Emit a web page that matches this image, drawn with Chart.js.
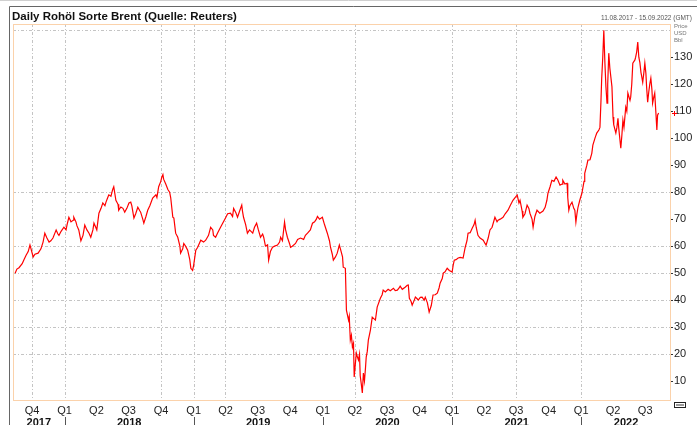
<!DOCTYPE html>
<html><head><meta charset="utf-8">
<script src="https://cdn.jsdelivr.net/npm/chart.js@4/dist/chart.umd.min.js"></script>
<style>html,body{margin:0;padding:0;background:#fff;overflow:hidden}#wrap{width:697px;height:425px;position:relative}</style>
</head><body><div id="wrap"><canvas id="c" width="697" height="425"></canvas></div>
<script>
const chartTitle = 'Daily Rohöl Sorte Brent (Quelle: Reuters)';
const dateRange = '11.08.2017 - 15.09.2022 (GMT)';
const unitLabels = ['Price', 'USD', 'Bbl'];
const startDate = '2017-08-11'; // day 0
// days since startDate
const days = [3,8,14,23,28,34,40,45,48,54,59,68,76,82,87,93,99,104,110,116,119,124,127,133,141,147,150,155,161,167,169,175,178,183,189,195,200,206,212,217,223,226,231,234,240,246,251,257,260,265,268,274,279,282,288,294,296,302,308,313,319,325,330,333,339,344,350,356,358,364,367,373,378,384,392,401,404,409,415,418,421,423,429,435,440,443,449,452,457,463,469,471,477,480,485,491,497,500,505,508,514,519,528,536,542,550,556,562,564,570,576,584,590,598,604,612,618,621,627,632,638,644,646,649,655,660,666,675,680,686,691,697,703,706,711,717,720,725,731,737,745,751,754,759,765,768,773,779,782,787,796,802,810,819,824,830,838,844,850,855,858,864,872,878,886,892,895,900,903,909,914,920,923,929,931,937,940,946,948,951,954,957,960,962,965,968,971,974,977,979,982,985,988,991,994,996,999,1002,1008,1013,1022,1027,1036,1041,1044,1050,1058,1064,1073,1078,1084,1089,1092,1098,1106,1112,1115,1118,1123,1126,1132,1135,1140,1143,1149,1154,1160,1163,1169,1174,1180,1185,1191,1197,1202,1205,1211,1214,1219,1225,1231,1239,1242,1245,1250,1256,1262,1270,1276,1281,1284,1290,1296,1301,1304,1307,1312,1318,1327,1332,1335,1341,1346,1352,1360,1366,1369,1375,1383,1389,1397,1403,1411,1417,1423,1428,1431,1437,1439,1445,1451,1456,1459,1465,1468,1473,1479,1487,1496,1502,1507,1510,1516,1521,1527,1533,1538,1544,1550,1552,1558,1564,1566,1569,1572,1578,1583,1586,1589,1592,1595,1600,1606,1612,1614,1620,1623,1629,1634,1637,1643,1648,1654,1657,1660,1662,1665,1668,1671,1674,1677,1679,1682,1685,1691,1694,1696,1702,1705,1708,1710,1716,1719,1722,1725,1730,1733,1736,1742,1744,1747,1750,1756,1758,1761,1764,1767,1770,1773,1775,1778,1781,1784,1787,1789,1792,1795,1798,1801,1804,1806,1809,1812,1815,1818,1820,1823];
// Brent, USD per barrel
const brent = [50,51.5,52,53.5,55,56.6,58,60.4,59,56,57,57.4,59,61.5,64.8,63,61.5,62,63,65,66,64.5,64,65.5,67,66,68,70.7,69,69.6,70.7,69,67.5,66,62,64,67.8,66,64.8,63.3,66,68.5,67,66,72.2,74,76,75,76.3,78,79,78.5,81,82,77,75.5,73.3,74.5,74,72.6,74,76,76.3,75,70.4,72,74.4,73,72.6,70,68.5,71,73.3,75,77.8,79,78,82,84,85.6,86.5,84.8,83,81,80,78,70.7,70.4,64.8,63.3,60,57.4,59,61,60,58.5,55,51.8,51,53,58.5,59.5,62.2,61.5,62.2,64,67,66,64,63.3,65,67,68.5,70.4,72,72.2,71,74,72.5,70.7,73,75.2,73,70.7,68,64.8,66,64.8,67,68.5,66,63.3,64.5,63.3,60,60.5,54.8,58,59.6,60,60.4,61.5,63.3,62,68.9,66,63.3,61,59.6,60,61,62.5,63,62.5,64,64.8,66,68.5,69,70,71,70,70.7,68,64.8,62,59.6,57,54.8,56,57.4,60.4,59,56,52.2,51.8,36.3,32.6,34,25.2,27,22.6,24,11.5,16,20.4,19,17.8,20,12,9,5.6,13,10,15,18.9,21,25.2,29,33.7,32.6,37.4,40.7,42,43.7,43,44,43.5,44.4,43.5,43.7,44.5,45.2,44,44.8,45.5,45.6,40.7,39.5,38.1,40,41.1,40.5,40,41,41.1,40,41.1,39,35.6,38,41.9,42,42.6,44.5,46.3,48,50,50.5,51.8,51,50.4,53,54.8,55,55.6,55.8,55.6,59.6,62,64.8,65,66.7,68,69.6,67,64,63,62.2,61,60.4,63,66,67,70.7,69,69.6,70,70.7,72,73.3,75,77,78,78.9,76,77,73,70.7,72,75.2,74,72.2,70,67,71,73.3,72.2,73,74.4,77,79.6,82,84.4,84,85.6,84.5,82.6,83,84.4,83,83.3,78,73.3,75,76.3,74,73.3,68.9,72,74.4,77,79.6,84,87,90,91.9,92,94.4,97.4,100,101.9,103,104,114,122.2,130,140,128,119,113,120,131.5,126,119,107.8,105,101.9,104,107.4,104,96.3,101,106.7,104,111.5,110,116.7,114,115.2,120,127.8,129,130,132,135.6,130,128,124.4,123,120.7,124,127.8,124,119,113.3,117,120,122.2,118,113,115,116.7,110,103,108.5,109.3];
// quarter starts (days since startDate) and labels
const quarterDays = [51,143,233,324,416,508,598,689,781,873,964,1055,1147,1239,1329,1420,1512,1604,1694,1785];
const quarterLabels = ['Q4','Q1','Q2','Q3','Q4','Q1','Q2','Q3','Q4','Q1','Q2','Q3','Q4','Q1','Q2','Q3','Q4','Q1','Q2','Q3'];
const yearLabels = ['2017','2018','2019','2020','2021','2022'];
const yearBounds = [-3,143,508,873,1239,1604,1858];
const yTickValues = [10,20,30,40,50,60,70,80,90,100,110,120,130];
const gridYValues = [20,30,40,50,60,80,140];
const gridXDays = [51,143,416,508,598,964,1239,1420,1604];

const FONT = "'Liberation Sans', Arial, sans-serif";

const decor = {
  id: 'decor',
  beforeDraw(chart) {
    const c = chart.ctx;
    c.save();
    c.fillStyle = '#fff';
    c.fillRect(0, 0, chart.width, chart.height);
    c.restore();
  },
  beforeDatasetsDraw(chart) {
    const c = chart.ctx, a = chart.chartArea;
    const xs = chart.scales.x, ys = chart.scales.y;
    c.save();
    c.strokeStyle = '#c4c4c4';
    c.lineWidth = 1;
    c.setLineDash([3, 2, 1, 2]);
    gridYValues.forEach(v => {
      const y = Math.round(ys.getPixelForValue(v)) + 0.5;
      c.beginPath(); c.moveTo(a.left, y); c.lineTo(a.right, y); c.stroke();
    });
    gridXDays.forEach(v => {
      const x = Math.round(xs.getPixelForValue(v)) + 0.5;
      c.beginPath(); c.moveTo(x, a.top); c.lineTo(x, a.bottom); c.stroke();
    });
    c.restore();
  },
  afterDraw(chart) {
    const c = chart.ctx, a = chart.chartArea;
    const xs = chart.scales.x, ys = chart.scales.y;
    c.save();
    // outer frame
    c.strokeStyle = '#d0d0d0'; c.lineWidth = 1;
    c.beginPath(); c.moveTo(0, 0.5); c.lineTo(chart.width, 0.5); c.stroke();
    c.strokeStyle = '#666';
    c.beginPath(); c.moveTo(9.5, chart.height); c.lineTo(9.5, 6.5); c.lineTo(chart.width, 6.5); c.stroke();
    // plot border
    c.strokeStyle = '#fbd2ab';
    c.strokeRect(a.left + 0.5, a.top + 0.5, a.right - a.left - 1, a.bottom - a.top);
    // title
    c.fillStyle = '#111';
    c.font = "bold 11.5px " + FONT;
    c.textBaseline = 'alphabetic'; c.textAlign = 'left';
    c.fillText(chartTitle, 12, 20);
    // date range
    c.font = "6.5px " + FONT; c.fillStyle = '#555'; c.textAlign = 'right';
    c.fillText(dateRange, 692, 20);
    // unit labels
    c.textAlign = 'left'; c.font = "6px " + FONT; c.fillStyle = '#777';
    unitLabels.forEach((t, i) => c.fillText(t, 674, 28 + i * 7));
    // y tick marks
    c.fillStyle = '#333';
    yTickValues.forEach(v => {
      const y = Math.round(ys.getPixelForValue(v));
      c.fillRect(a.right, y, 2, 1);
    });
    // year labels and separators
    c.font = "bold 11px " + FONT; c.fillStyle = '#111'; c.textAlign = 'center'; c.textBaseline = 'top';
    yearLabels.forEach((t, i) => {
      const xm = (xs.getPixelForValue(yearBounds[i]) + xs.getPixelForValue(yearBounds[i + 1])) / 2;
      c.fillText(t, xm, 417);
    });
    c.fillStyle = '#555';
    yearBounds.slice(1, -1).forEach(v => {
      const x = Math.round(xs.getPixelForValue(v));
      c.fillRect(x, 417, 1, 8);
    });
    // last value marker
    const last = brent[brent.length - 1];
    const ly = Math.round(ys.getPixelForValue(last));
    c.fillStyle = '#ff0000';
    c.fillRect(a.right + 1, ly, 5, 1);
    c.fillRect(a.right + 3, ly - 2, 1, 5);
    // small icon bottom right
    c.strokeStyle = '#222'; c.lineWidth = 1;
    c.strokeRect(674.5, 402.5, 11, 5);
    c.fillStyle = '#999';
    c.fillRect(676, 404, 8, 2);
    c.restore();
  }
};

new Chart(document.getElementById('c'), {
  type: 'line',
  data: {
    datasets: [{
      data: days.map((d, i) => ({ x: d, y: brent[i] })),
      borderColor: '#ff0000',
      borderWidth: 1.2,
      pointRadius: 0,
      tension: 0,
      fill: false
    }]
  },
  options: {
    responsive: false,
    animation: false,
    devicePixelRatio: 1,
    layout: { padding: { left: 13, top: 24, right: 0, bottom: 0 } },
    plugins: { legend: { display: false }, tooltip: { enabled: false } },
    scales: {
      x: {
        type: 'linear', min: -3, max: 1858,
        afterBuildTicks: s => { s.ticks = quarterDays.map(v => ({ value: v })); },
        afterFit: s => { s.height = 25; },
        grid: { display: false, drawTicks: false },
        border: { display: false },
        ticks: {
          autoSkip: false, maxRotation: 0, padding: 4,
          color: '#222', font: { family: FONT, size: 11 },
          callback: (v, i) => quarterLabels[i]
        }
      },
      y: {
        position: 'right', min: 3, max: 142.3,
        afterBuildTicks: s => { s.ticks = yTickValues.map(v => ({ value: v })); },
        afterFit: s => { s.width = 26; },
        grid: { display: false, drawTicks: false },
        border: { display: false },
        ticks: {
          padding: 3, color: '#222', font: { family: FONT, size: 11 },
          callback: v => String(v)
        }
      }
    }
  },
  plugins: [decor]
});
</script>
</body></html>
